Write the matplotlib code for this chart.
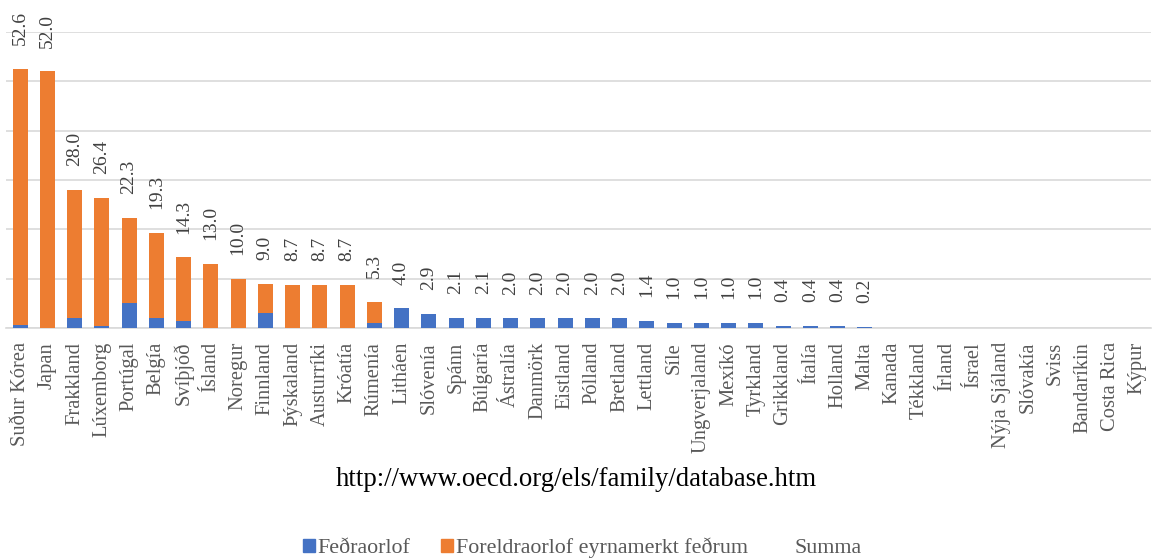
import numpy as np
import matplotlib.pyplot as plt
from matplotlib.patches import Patch

plt.rcParams['font.family'] = ['Liberation Serif', 'DejaVu Serif']

countries = ["Suður Kórea", "Japan", "Frakkland", "Lúxemborg", "Portúgal", "Belgía",
             "Svíþjóð", "Ísland", "Noregur", "Finnland", "Þýskaland", "Austurríki",
             "Króatía", "Rúmenía", "Litháen", "Slóvenía", "Spánn", "Búlgaría",
             "Ástralía", "Danmörk", "Eistland", "Pólland", "Bretland", "Lettland",
             "Síle", "Ungverjaland", "Mexíkó", "Tyrkland", "Grikkland", "Ítalía",
             "Holland", "Malta", "Kanada", "Tékkland", "Írland", "Ísrael",
             "Nýja Sjáland", "Slóvakía", "Sviss", "Bandaríkin", "Costa Rica", "Kýpur"]

# Feðraorlof (blue)
paternity = [0.6, 0.0, 2.0, 0.4, 5.0, 2.0, 1.4, 0.0, 0.0, 3.0, 0.0, 0.0,
             0.0, 1.0, 4.0, 2.9, 2.1, 2.1, 2.0, 2.0, 2.0, 2.0, 2.0, 1.4,
             1.0, 1.0, 1.0, 1.0, 0.4, 0.4, 0.4, 0.2, 0, 0, 0, 0,
             0, 0, 0, 0, 0, 0]
# Foreldraorlof eyrnamerkt feðrum (orange)
earmarked = [52.0, 52.0, 26.0, 26.0, 17.3, 17.3, 12.9, 13.0, 10.0, 6.0, 8.7, 8.7,
             8.7, 4.3, 0, 0, 0, 0, 0, 0, 0, 0, 0, 0,
             0, 0, 0, 0, 0, 0, 0, 0, 0, 0, 0, 0,
             0, 0, 0, 0, 0, 0]
# Summa (labels only)
totals = [52.6, 52.0, 28.0, 26.4, 22.3, 19.3, 14.3, 13.0, 10.0, 9.0, 8.7, 8.7,
          8.7, 5.3, 4.0, 2.9, 2.1, 2.1, 2.0, 2.0, 2.0, 2.0, 2.0, 1.4,
          1.0, 1.0, 1.0, 1.0, 0.4, 0.4, 0.4, 0.2, None, None, None, None,
          None, None, None, None, None, None]

blue = "#4472C4"
orange = "#ED7D31"
gray = "#595959"

W, H = 1153, 559
fig = plt.figure(figsize=(W / 100, H / 100), dpi=100)
ax = fig.add_axes([6.4 / W, 1 - 328 / H, (1151 - 6.4) / W, (328 - 32) / H])

x = np.arange(len(countries))
ax.bar(x, paternity, width=0.55, color=blue, zorder=3)
ax.bar(x, earmarked, width=0.55, bottom=paternity, color=orange, zorder=3)

for xi, t in zip(x, totals):
    if t is None:
        continue
    ax.annotate(f"{t:.1f}", (xi, t), xytext=(0, 17), textcoords="offset points",
                rotation=90, ha="center", va="bottom", fontsize=14, color="#404040")

ax.set_xlim(-0.5, len(countries) - 0.5)
ax.set_ylim(0, 60)
ax.set_yticks(np.arange(0, 61, 10))
ax.yaxis.grid(True, color="#D9D9D9", linewidth=1.2, zorder=0)
ax.tick_params(axis="y", left=False, labelleft=False)
ax.tick_params(axis="x", length=0, pad=10)
ax.set_xticks(x)
ax.set_xticklabels(countries, rotation=90, fontsize=14.8, color=gray)
for s in ["top", "right", "left"]:
    ax.spines[s].set_visible(False)
ax.spines["bottom"].set_color("#D9D9D9")
ax.spines["bottom"].set_linewidth(1.2)

fig.text(0.5, 1 - 480 / H, "http://www.oecd.org/els/family/database.htm",
         ha="center", va="center", fontsize=19.3, color="black")

handles = [Patch(color=blue, label="Feðraorlof"),
           Patch(color=orange, label="Foreldraorlof eyrnamerkt feðrum"),
           Patch(facecolor="none", edgecolor="none", label="Summa")]
fig.legend(handles=handles, loc="center", bbox_to_anchor=(582 / W, 1 - 548 / H), ncol=3,
           frameon=False, fontsize=15.8, labelcolor=gray, handlelength=0.55,
           handleheight=0.55, handletextpad=0.14, columnspacing=1.4)

fig.savefig("out.png", dpi=100)
